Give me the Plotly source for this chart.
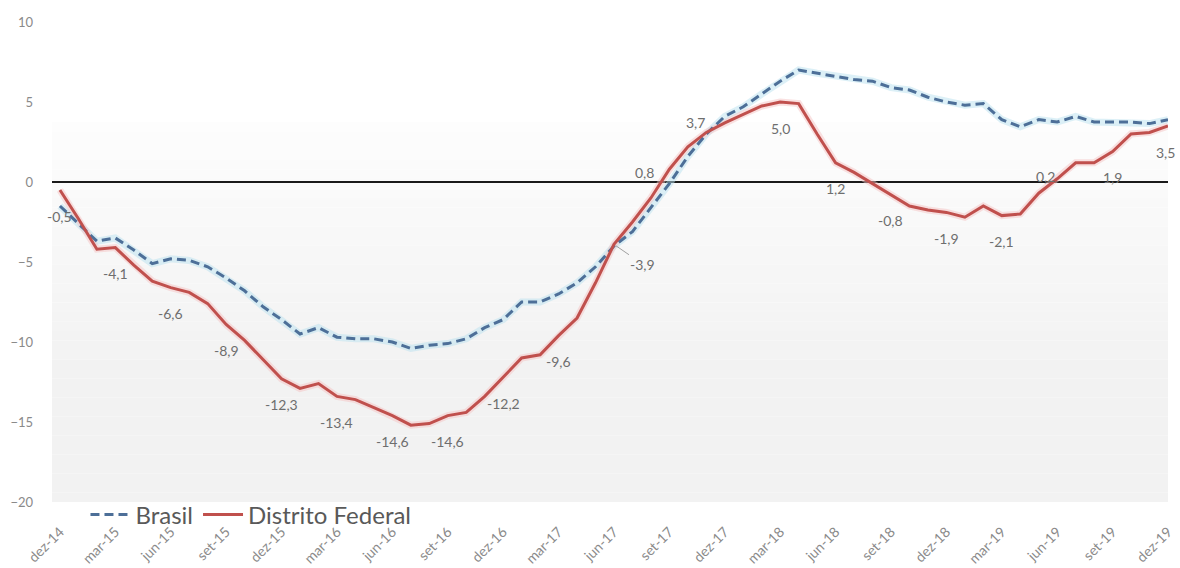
import plotly.graph_objects as go

# ---- data ----
months = ["dez", "jan", "fev", "mar", "abr", "mai", "jun", "jul", "ago", "set", "out", "nov"]
start_year = 14
n_months = 61

brasil = [-1.5, -2.6, -3.7, -3.5, -4.25, -5.1, -4.8, -4.9, -5.3, -6.0,
          -6.8, -7.8, -8.6, -9.5, -9.1, -9.7, -9.8, -9.8, -10.0, -10.4,
          -10.2, -10.1, -9.8, -9.1, -8.6, -7.5, -7.5, -7.0, -6.3, -5.3,
          -4.0, -3.1, -1.6, -0.1, 1.6, 3.0, 4.1, 4.7, 5.5, 6.3,
          7.0, 6.8, 6.6, 6.4, 6.3, 5.9, 5.75, 5.3, 5.0, 4.8,
          4.9, 3.9, 3.45, 3.9, 3.75, 4.1, 3.75, 3.75, 3.75, 3.65,
          3.9]

distrito_federal = [-0.5, -2.3, -4.2, -4.1, -5.2, -6.2, -6.6, -6.9, -7.6, -8.9,
                    -9.9, -11.1, -12.3, -12.9, -12.6, -13.4, -13.6, -14.1, -14.6, -15.2,
                    -15.1, -14.6, -14.4, -13.4, -12.2, -11.0, -10.8, -9.6, -8.5, -6.3,
                    -3.9, -2.5, -1.0, 0.8, 2.2, 3.1, 3.7, 4.25, 4.75, 5.0,
                    4.9, 3.0, 1.2, 0.6, -0.1, -0.8, -1.5, -1.75, -1.9, -2.2,
                    -1.5, -2.1, -2.0, -0.7, 0.2, 1.2, 1.2, 1.9, 3.0, 3.1,
                    3.5]

label_step = 3  # data labels every quarter
# label offsets in pixels (xshift, yshift); default below the point
label_offsets = {33: (-25, -3), 36: (-29, 0), 54: (-12, 2), 60: (-3, -26)}
leader_labels = {30: (29, 20)}

# ---- derived ----
x = list(range(n_months))
def month_label(i):
    m = months[i % 12]
    yr = start_year + (i + 11) // 12 if i % 12 != 0 else start_year + i // 12
    return f"{m}-{yr}"
tick_vals = list(range(0, n_months, 3))
tick_text = [month_label(i) for i in tick_vals]

FONT = "Lato, Open Sans, sans-serif"
fig = go.Figure()

# glow underlays
fig.add_trace(go.Scatter(x=x, y=brasil, mode="lines", showlegend=False, hoverinfo="skip",
                         line=dict(color="rgba(185,225,240,0.5)", width=7)))
fig.add_trace(go.Scatter(x=x, y=distrito_federal, mode="lines", showlegend=False, hoverinfo="skip",
                         line=dict(color="rgba(245,195,195,0.5)", width=7)))

fig.add_trace(go.Scatter(x=x, y=brasil, mode="lines", name="Brasil",
                         line=dict(color="#4d6f98", width=3, dash="9px,5px")))
fig.add_trace(go.Scatter(x=x, y=distrito_federal, mode="lines", name="Distrito Federal",
                         line=dict(color="#c0504d", width=3)))

# background gradient (plot area)
shapes = []
top_val, bot_val = 3.75, -20.0
nb = 40
for k in range(nb):
    y0 = top_val - (top_val - bot_val) * k / nb
    y1 = top_val - (top_val - bot_val) * (k + 1) / nb
    t = min(1.0, (k + 0.5) / (nb * 0.65))
    c = int(round(253 - (253 - 242) * t))
    shapes.append(dict(type="rect", xref="paper", yref="y", x0=0, x1=1, y0=y1, y1=y0,
                       fillcolor=f"rgb({c},{c},{c})", line=dict(width=0), layer="below"))

annotations = []
for i in range(0, n_months, label_step):
    v = distrito_federal[i]
    txt = f"{v:.1f}".replace(".", ",")
    if i in leader_labels:
        ax, ay = leader_labels[i]
        annotations.append(dict(x=i, y=v, text=txt, showarrow=True, arrowhead=0,
                                arrowwidth=1, arrowcolor="#a0a0a0", ax=ax, ay=ay,
                                standoff=2, font=dict(family=FONT, size=14, color="#6e6e6e")))
    else:
        xs, ys = label_offsets.get(i, (0, -26))
        annotations.append(dict(x=i, y=v, text=txt, showarrow=False, xshift=xs, yshift=ys,
                                font=dict(family=FONT, size=14, color="#6e6e6e")))

fig.update_layout(
    width=1180, height=568,
    margin=dict(l=52, r=12, t=22, b=66),
    paper_bgcolor="white", plot_bgcolor="white",
    font=dict(family=FONT, color="#7f7f7f"),
    shapes=shapes, annotations=annotations,
    legend=dict(orientation="h", x=0.03, y=-0.027, xanchor="left", yanchor="middle",
                bgcolor="rgba(0,0,0,0)", font=dict(family=FONT, size=24, color="#595959"),
                itemwidth=40, tracegroupgap=0),
    xaxis=dict(range=[-0.43, 60], tickmode="array", tickvals=tick_vals, ticktext=tick_text,
               tickangle=-45, showgrid=False, zeroline=False, showline=False, automargin=False,
               tickfont=dict(family=FONT, size=14, color="#8a8a8a"), ticklabelstandoff=18),
    yaxis=dict(range=[-20, 10], tickvals=[-20, -15, -10, -5, 0, 5, 10], showgrid=False,
               zeroline=True, zerolinecolor="#1a1a1a", zerolinewidth=1.6, showline=False,
               automargin=False,
               tickfont=dict(family=FONT, size=13, color="#8a8a8a"), ticklabelstandoff=18),
)

fig.write_html("out.html", config={"displayModeBar": False},
               post_script="document.body.style.margin='0';document.body.style.overflow='hidden';")
